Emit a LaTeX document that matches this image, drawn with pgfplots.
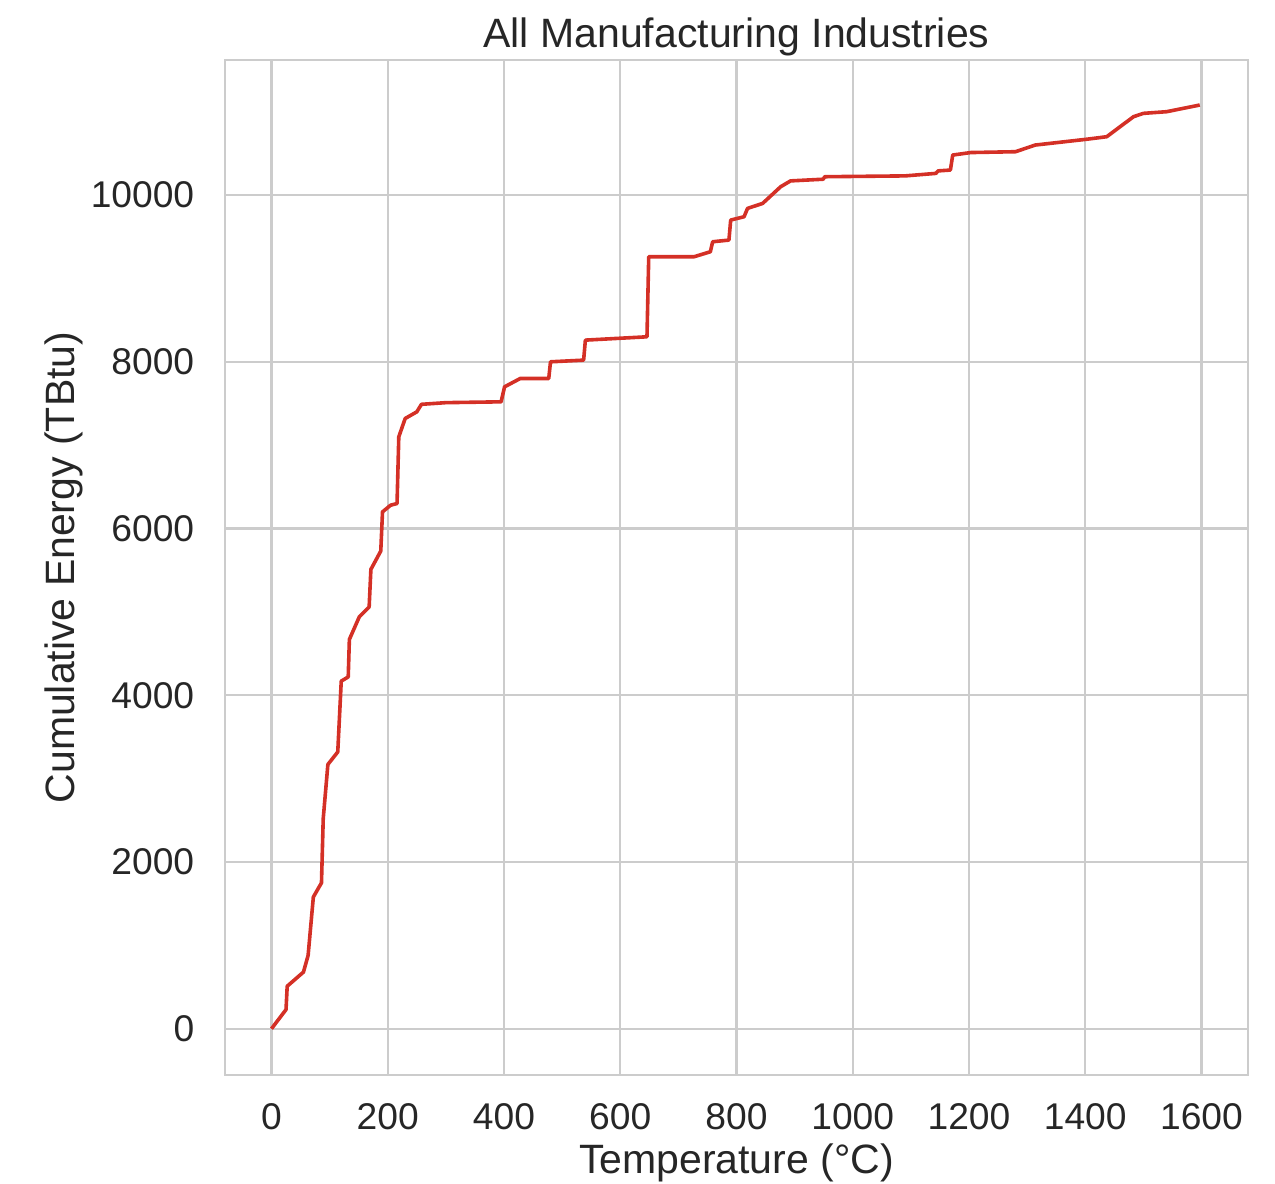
\documentclass[border=0pt]{standalone}
\usepackage{fontspec}
\setmainfont{Liberation Sans}
\usepackage{pgfplots}
\pgfplotsset{compat=1.18}

\definecolor{gridgray}{gray}{0.8}
\definecolor{curvered}{RGB}{212,48,38}

\pgfplotstableread{
T E
0 0
25 230
27 510
55 680
63 880
72 1580
86 1750
89 2520
97 3170
114 3320
120 4170
132 4220
134 4670
151 4940
168 5060
171 5510
188 5730
191 6200
205 6280
216 6300
219 7100
230 7320
250 7400
258 7490
300 7510
395 7520
401 7700
428 7800
477 7800
480 8000
537 8020
540 8260
646 8300
649 9260
727 9260
755 9320
759 9440
787 9460
790 9700
813 9740
819 9840
845 9900
876 10100
893 10170
949 10190
952 10220
1090 10230
1143 10260
1147 10290
1168 10300
1172 10480
1203 10510
1280 10520
1314 10600
1403 10670
1437 10700
1483 10940
1500 10980
1540 11000
1597 11080
}\cumenergy

\begin{document}
\begin{tikzpicture}
\begin{axis}[
  at={(0,0)}, anchor=south west,
  scale only axis,
  width=255.75pt, height=253.75pt,
  xmin=-80, xmax=1680,
  ymin=-555, ymax=11620,
  xtick={0,200,...,1600},
  ytick={0,2000,...,10000},
  scaled ticks=false,
  /pgf/number format/assume math mode=true,
  xticklabel={\pgfmathprintnumber[fixed,precision=0,1000 sep={}]{\tick}},
  yticklabel={\pgfmathprintnumber[fixed,precision=0,1000 sep={}]{\tick}},
  major tick length=0pt,
  tick label style={font=\fontsize{9.3}{11}\selectfont, text=black!85},
  x tick label style={inner sep=0pt, anchor=north, yshift=-7pt},
  y tick label style={inner sep=0pt, anchor=east, xshift=-7.5pt},
  grid=major,
  major grid style={gridgray, line width=0.6pt},
  axis line style={gridgray, line width=0.6pt},
  every axis title shift=0pt,
  title={All Manufacturing Industries},
  title style={at={(0.5,1)}, anchor=base, yshift=3.25pt, inner sep=0pt,
               font=\fontsize{10.25}{12}\selectfont, text=black!85},
  xlabel={Temperature (°C)},
  xlabel style={at={(0.5,0)}, anchor=base, yshift=-24.5pt, inner sep=0pt,
                font=\fontsize{10.25}{12}\selectfont, text=black!85},
  ylabel={Cumulative Energy (TBtu)},
  ylabel style={at={(0,0.5)}, anchor=base, yshift=37.5pt, inner sep=0pt,
                font=\fontsize{10.25}{12}\selectfont, text=black!85},
  clip=false,
]
\addplot[curvered, line width=0.9pt, line join=round] table[x=T, y=E] {\cumenergy};
\end{axis}
\pgfresetboundingbox
\path[use as bounding box] (-56.25pt,-27pt) rectangle (262.5pt,268.75pt);
\end{tikzpicture}
\end{document}
